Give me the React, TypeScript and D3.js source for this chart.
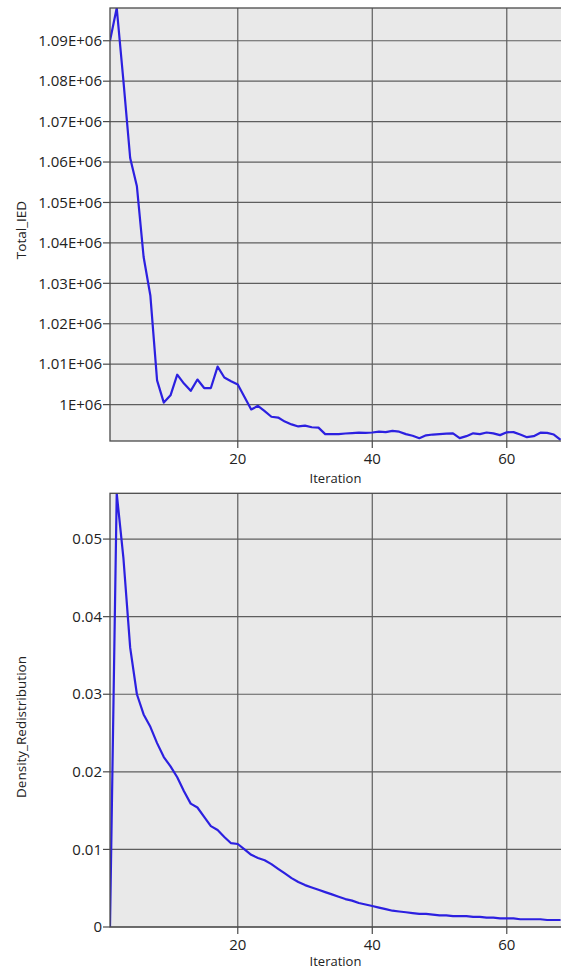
import React from "react";
import * as d3 from "d3";

const iterations: number[] = Array.from({ length: 68 }, (_, i) => i + 1);

const totalIED: number[] = [
  1090000, 1098100, 1080000, 1061000, 1054000, 1036500, 1027000, 1006000, 1000500, 1002300,
  1007400, 1005200, 1003400, 1006200, 1004100, 1004100, 1009400, 1006700, 1005800, 1005000,
  1001900, 998800, 999700, 998400, 997000, 996800, 995800, 995100, 994600, 994800,
  994400, 994300, 992700, 992700, 992700, 992850, 992950, 993050, 993000, 993100,
  993300, 993200, 993500, 993300, 992700, 992300, 991700, 992400, 992600, 992700,
  992800, 992900, 991700, 992200, 992900, 992700, 993100, 992900, 992450, 993150,
  993200, 992600, 991950, 992200, 993050, 993000, 992600, 991300,
];

const densityRedistribution: number[] = [
  0, 0.0559, 0.0475, 0.036, 0.03, 0.0274, 0.0258, 0.0237, 0.0219, 0.0207,
  0.0193, 0.0175, 0.0159, 0.0154, 0.0142, 0.013, 0.0125, 0.0116, 0.0108, 0.0107,
  0.01, 0.0093, 0.0089, 0.0086, 0.0081, 0.0075, 0.0069, 0.0063, 0.0058, 0.0054,
  0.0051, 0.0048, 0.0045, 0.0042, 0.0039, 0.0036, 0.0034, 0.0031, 0.0029, 0.0027,
  0.0025, 0.0023, 0.0021, 0.002, 0.0019, 0.0018, 0.0017, 0.0017, 0.0016, 0.0015,
  0.0015, 0.0014, 0.0014, 0.0014, 0.0013, 0.0013, 0.0012, 0.0012, 0.0011, 0.0011,
  0.0011, 0.001, 0.001, 0.001, 0.001, 0.0009, 0.0009, 0.0009,
];

const xTicks: number[] = [20, 40, 60];
const topYTicks: number[] = [1000000, 1010000, 1020000, 1030000, 1040000, 1050000, 1060000, 1070000, 1080000, 1090000];
const topYLabels: string[] = ["1E+06", "1.01E+06", "1.02E+06", "1.03E+06", "1.04E+06", "1.05E+06", "1.06E+06", "1.07E+06", "1.08E+06", "1.09E+06"];
const botYTicks: number[] = [0, 0.01, 0.02, 0.03, 0.04, 0.05];
const botYLabels: string[] = ["0", "0.01", "0.02", "0.03", "0.04", "0.05"];

const FONT = "'Open Sans', 'DejaVu Sans', sans-serif";

interface PanelProps {
  id: string;
  top: number;
  bottom: number;
  values: number[];
  yDomain: [number, number];
  yTicks: number[];
  yLabels: string[];
  yTitle: string;
  yTitleY: number;
  xTitleDy: number;
}

function Panel(p: PanelProps) {
  const left = 110;
  const right = 563;
  const x = d3.scaleLinear().domain([1, 68]).range([left, left + (68 - 1) * 6.725]);
  const y = d3.scaleLinear().domain(p.yDomain).range([p.bottom, p.top]);
  const line = d3
    .line<number>()
    .x((_, i) => x(iterations[i]))
    .y((d) => y(d));
  return (
    <g>
      <defs>
        <clipPath id={p.id + "clip"}>
          <rect x={left} y={p.top} width={right - left} height={p.bottom - p.top} />
        </clipPath>
      </defs>
      <rect x={left} y={p.top} width={right - left} height={p.bottom - p.top} fill="#e9e9e9" />
      {xTicks.map((t) => (
        <line key={"gx" + t} x1={x(t)} x2={x(t)} y1={p.top} y2={p.bottom} stroke="#5e5e5e" strokeWidth={1.2} />
      ))}
      {p.yTicks.map((t) => (
        <line key={"gy" + t} x1={left} x2={right} y1={y(t)} y2={y(t)} stroke="#5e5e5e" strokeWidth={1.2} />
      ))}
      <path d={line(p.values) || ""} fill="none" stroke="#2c20e0" strokeWidth={2.2} clipPath={`url(#${p.id}clip)`} strokeLinejoin="round" />
      <rect x={left} y={p.top} width={right - left} height={p.bottom - p.top} fill="none" stroke="#4a4a4a" strokeWidth={1.3} />
      {p.yTicks.map((t, i) => (
        <g key={"ty" + t}>
          <line x1={left - 7} x2={left} y1={y(t)} y2={y(t)} stroke="#4a4a4a" strokeWidth={1.2} />
          <text x={left - 8} y={y(t)} dy="0.35em" textAnchor="end" fontFamily={FONT} fontSize={15} fill="#222">
            {p.yLabels[i]}
          </text>
        </g>
      ))}
      {xTicks.map((t) => (
        <g key={"tx" + t}>
          <line x1={x(t)} x2={x(t)} y1={p.bottom} y2={p.bottom + 7} stroke="#4a4a4a" strokeWidth={1.2} />
          <text x={x(t)} y={p.bottom + 23} textAnchor="middle" fontFamily={FONT} fontSize={15} fill="#222">
            {t}
          </text>
        </g>
      ))}
      <text x={335.5} y={p.bottom + p.xTitleDy} textAnchor="middle" fontFamily={FONT} fontSize={13} fill="#222">
        Iteration
      </text>
      <text
        transform={`translate(26, ${p.yTitleY}) rotate(-90)`}
        textAnchor="middle"
        fontFamily={FONT}
        fontSize={13.5}
        fill="#222"
      >
        {p.yTitle}
      </text>
    </g>
  );
}

export default function App() {
  return (
    <svg width={561} height={971} style={{ position: "absolute", left: 0, top: 0, background: "#fff" }}>
      <Panel
        id="top"
        top={8}
        bottom={441}
        values={totalIED}
        yDomain={[991000, 1098100]}
        yTicks={topYTicks}
        yLabels={topYLabels}
        yTitle="Total_IED"
        yTitleY={230}
        xTitleDy={42}
      />
      <Panel
        id="bot"
        top={493.3}
        bottom={927}
        values={densityRedistribution}
        yDomain={[0, 0.0559]}
        yTicks={botYTicks}
        yLabels={botYLabels}
        yTitle="Density_Redistribution"
        yTitleY={727}
        xTitleDy={39}
      />
    </svg>
  );
}
